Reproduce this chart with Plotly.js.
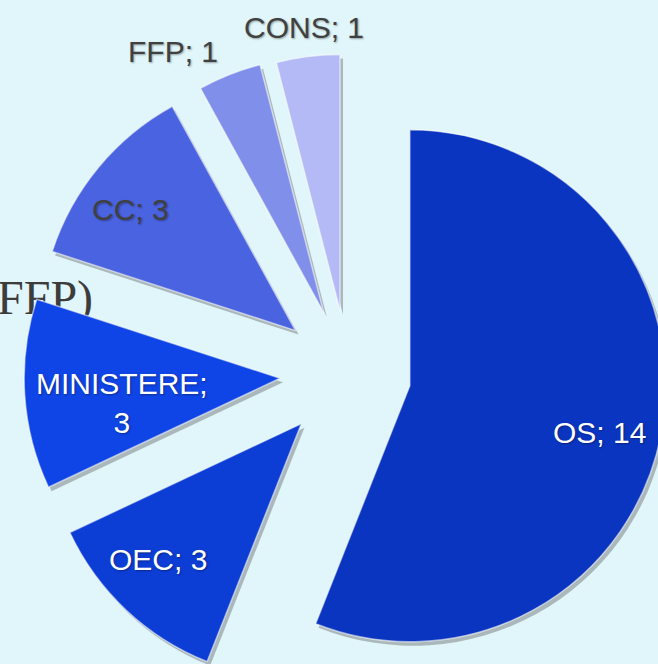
<!DOCTYPE html>
<html>
<head>
<meta charset="utf-8">
<script src="https://cdn.plot.ly/plotly-3.0.1.min.js"></script>
<style>
  html, body { margin:0; padding:0; width:658px; height:664px; overflow:hidden; background:#e0f6fa; }
  #bgtext { position:absolute; left:-19px; top:274px; font-family:"Liberation Serif","DejaVu Serif",serif; font-size:48px; line-height:1; color:#3c3c3c; white-space:nowrap; }
  #chart { position:absolute; left:0; top:0; }
</style>
</head>
<body>
<div id="bgtext">(FFP)</div>
<div id="chart"></div>
<script>
// ---- data ----
const labels = ['OS', 'OEC', 'MINISTERE', 'CC', 'FFP', 'CONS'];
const values = [14, 3, 3, 3, 1, 1];

// ---- styles ----
const colors = ['#0a35c0', '#0c3ed6', '#0f45e6', '#4a63e0', '#8090ea', '#b3baf5'];
const textColors = ['#ffffff', '#ffffff', '#ffffff', '#404040', '#404040', '#404040'];
const pulls = [0.246, 0.266, 0.266, 0.266, 0.258, 0.25];
const labelR = [0.765, 0.77, 0.625, 0.80, 1.18, 1.115];     // label distance (fraction of radius) from slice apex
const labelDTheta = [3, 3.4, -5.4, -3.2, -8.4, 0];          // degrees offset from slice mid-angle

// ---- layout geometry ----
const W = 700, H = 730;
const M = {l: 18, t: 44, r: 22, b: 26};
const PW = W - M.l - M.r, PH = H - M.t - M.b;   // 660 x 660
const inset = 6, box = PW - 2 * inset;          // 648 px pie box
const maxPull = Math.max(...pulls);
const R = box / (2 + 2 * maxPull);
const CX = M.l + inset + box / 2, CY = M.t + inset + box / 2;

// label positions derived from the values
const total = values.reduce((a, b) => a + b, 0);
const annotations = [];
let cum = 0;
values.forEach((v, i) => {
  const mid = (cum + v / 2) / total * 360;
  cum += v;
  const m = mid * Math.PI / 180;
  const ax = CX + pulls[i] * R * Math.sin(m);
  const ay = CY - pulls[i] * R * Math.cos(m);
  const t = (mid + labelDTheta[i]) * Math.PI / 180;
  const px = ax + labelR[i] * R * Math.sin(t);
  const py = ay - labelR[i] * R * Math.cos(t);
  annotations.push({
    xref: 'paper', yref: 'paper',
    x: (px - M.l) / PW, y: 1 - (py - M.t) / PH,
    xanchor: 'center', yanchor: 'middle',
    text: labels[i] + (labels[i].length > 6 ? ';<br>' : '; ') + values[i],
    showarrow: false,
    font: {family: '"Liberation Sans", Arial, sans-serif', size: 30, color: textColors[i],
           shadow: '1px 1px 2px rgba(0,0,0,0.35)'}
  });
});

const dom = (dx, dy) => ({
  x: [(inset + dx) / PW, (inset + dx + box) / PW],
  y: [1 - (inset + dy + box) / PH, 1 - (inset + dy) / PH]
});

const shadow = {
  type: 'pie', labels: labels, values: values, sort: false,
  direction: 'clockwise', rotation: 0, pull: pulls,
  domain: dom(3, 4),
  marker: {colors: labels.map(() => 'rgba(70,70,70,0.35)'), line: {width: 0}},
  textinfo: 'none', hoverinfo: 'skip', showlegend: false
};

const main = {
  type: 'pie', labels: labels, values: values, sort: false,
  direction: 'clockwise', rotation: 0, pull: pulls,
  domain: dom(0, 0),
  marker: {colors: colors, line: {color: 'rgba(255,255,255,0.55)', width: 1.5}},
  textinfo: 'none', showlegend: false
};

Plotly.newPlot('chart', [shadow, main], {
  width: W, height: H,
  margin: M,
  paper_bgcolor: 'rgba(0,0,0,0)',
  plot_bgcolor: 'rgba(0,0,0,0)',
  showlegend: false,
  annotations: annotations
}, {displayModeBar: false, staticPlot: true});
</script>
</body>
</html>
